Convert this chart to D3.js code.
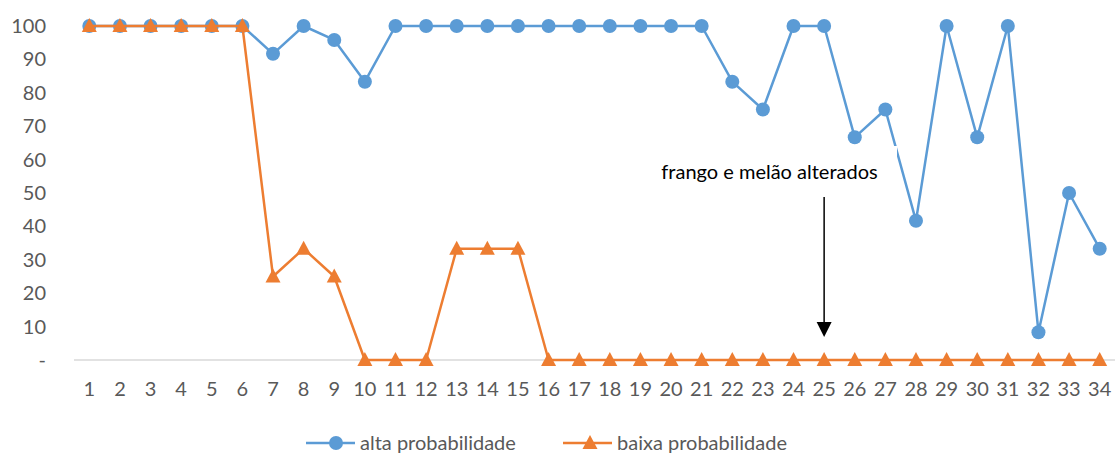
<!DOCTYPE html>
<html>
<head>
<meta charset="utf-8">
<script src="https://cdn.jsdelivr.net/npm/d3@7"></script>
<style>
  html, body { margin: 0; padding: 0; background: #fff; }
  svg { display: block; font-family: Lato, "Open Sans", sans-serif; }
</style>
</head>
<body>
<svg id="chart" width="1115" height="455"></svg>
<script>
// Observations 1..34
const categories = d3.range(1, 35).map(String);

// Share of participants (%) per observation
const altaProbabilidade = [
  100, 100, 100, 100, 100, 100, 91.67, 100, 95.83, 83.33,
  100, 100, 100, 100, 100, 100, 100, 100, 100, 100,
  100, 83.33, 75, 100, 100, 66.67, 75, 41.67, 100, 66.67,
  100, 8.33, 50, 33.33
];
const baixaProbabilidade = [
  100, 100, 100, 100, 100, 100, 25, 33.33, 25, 0,
  0, 0, 33.33, 33.33, 33.33, 0, 0, 0, 0, 0,
  0, 0, 0, 0, 0, 0, 0, 0, 0, 0,
  0, 0, 0, 0
];

const yTicks = [0, 10, 20, 30, 40, 50, 60, 70, 80, 90, 100];
const yTickLabel = v => (v === 0 ? "-" : String(v));

const seriesNames = ["alta probabilidade", "baixa probabilidade"];
const annotationText = "frango e melão alterados";
const annotationCategory = "25";

const blue = "#5B9BD5", orange = "#ED7D31";
const textColor = "#595959";
const fontSize = 20;

const svg = d3.select("#chart");

const x = d3.scaleBand().domain(categories).range([74, 1115]);
const y = d3.scaleLinear().domain([0, 100]).range([360, 26]);
const cx = d => x(d) + x.bandwidth() / 2;

// Baseline
svg.append("line")
  .attr("x1", 74).attr("x2", 1115)
  .attr("y1", y(0)).attr("y2", y(0))
  .attr("stroke", "#d9d9d9").attr("stroke-width", 1.5);

// Y axis labels
const yAxis = svg.append("g")
  .attr("transform", "translate(46,0)")
  .call(d3.axisLeft(y).tickValues(yTicks).tickFormat(yTickLabel).tickSize(0).tickPadding(0));
yAxis.select(".domain").remove();
yAxis.selectAll("text")
  .attr("fill", textColor).attr("font-size", fontSize)
  .attr("font-family", "Lato, 'Open Sans', sans-serif");

// X axis labels
const xAxis = svg.append("g")
  .attr("transform", `translate(0,${y(0)})`)
  .call(d3.axisBottom(x).tickSize(0).tickPadding(22));
xAxis.select(".domain").remove();
xAxis.selectAll("text")
  .attr("fill", textColor).attr("font-size", fontSize)
  .attr("font-family", "Lato, 'Open Sans', sans-serif");

const line = d3.line().x((d, i) => cx(categories[i])).y(d => y(d));

// Blue series
svg.append("path")
  .datum(altaProbabilidade)
  .attr("d", line)
  .attr("fill", "none").attr("stroke", blue).attr("stroke-width", 2.5)
  .attr("stroke-linejoin", "round");
svg.append("g").selectAll("circle")
  .data(altaProbabilidade)
  .join("circle")
  .attr("cx", (d, i) => cx(categories[i]))
  .attr("cy", d => y(d))
  .attr("r", 7)
  .attr("fill", blue);

// Annotation text box (white fill)
svg.append("rect")
  .attr("x", 650).attr("y", 146).attr("width", 247).attr("height", 44)
  .attr("fill", "#fff");

// Orange series
const tri = "M0,-8 L7.5,6 L-7.5,6 Z";
svg.append("path")
  .datum(baixaProbabilidade)
  .attr("d", line)
  .attr("fill", "none").attr("stroke", orange).attr("stroke-width", 2.5)
  .attr("stroke-linejoin", "round");
svg.append("g").selectAll("path")
  .data(baixaProbabilidade)
  .join("path")
  .attr("transform", (d, i) => `translate(${cx(categories[i])},${y(d)})`)
  .attr("d", tri)
  .attr("fill", orange);

// Annotation
svg.append("text")
  .attr("x", 769.5).attr("y", 179)
  .attr("text-anchor", "middle")
  .attr("font-size", fontSize).attr("fill", "#000")
  .text(annotationText);
const ax = cx(annotationCategory);
svg.append("line")
  .attr("x1", ax).attr("x2", ax)
  .attr("y1", 197).attr("y2", 323)
  .attr("stroke", "#000").attr("stroke-width", 1.5);
svg.append("path")
  .attr("d", `M${ax - 7.5},322 L${ax + 7.5},322 L${ax},337 Z`)
  .attr("fill", "#000");

// Legend
const legend = [
  { name: seriesNames[0], color: blue, x0: 306, marker: "circle" },
  { name: seriesNames[1], color: orange, x0: 563, marker: "triangle" }
];
const ly = 443;
legend.forEach(l => {
  const g = svg.append("g");
  g.append("line")
    .attr("x1", l.x0).attr("x2", l.x0 + 49)
    .attr("y1", ly).attr("y2", ly)
    .attr("stroke", l.color).attr("stroke-width", 2.5);
  if (l.marker === "circle") {
    g.append("circle").attr("cx", l.x0 + 30).attr("cy", ly).attr("r", 7).attr("fill", l.color);
  } else {
    g.append("path").attr("transform", `translate(${l.x0 + 27},${ly})`).attr("d", tri).attr("fill", l.color);
  }
  g.append("text")
    .attr("x", l.x0 + 54).attr("y", ly).attr("dy", "0.35em")
    .attr("font-size", fontSize).attr("fill", textColor)
    .text(l.name);
});
</script>
</body>
</html>
